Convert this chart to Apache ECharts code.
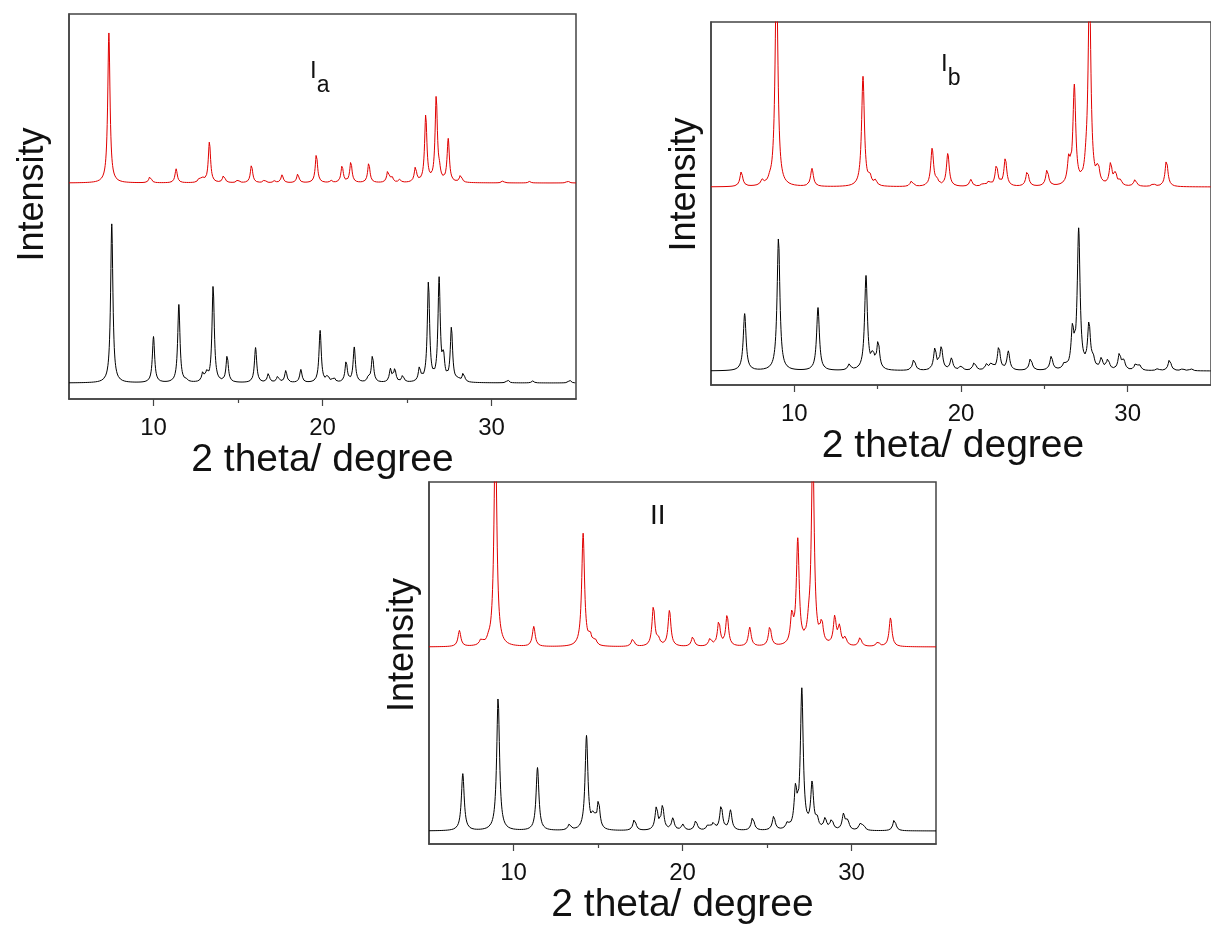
<!DOCTYPE html>
<html>
<head>
<meta charset="utf-8">
<title>PXRD Ia / Ib / II</title>
<script src="https://cdn.jsdelivr.net/npm/echarts@6/dist/echarts.min.js"></script>
<style>
  html, body { margin: 0; padding: 0; background: #fff; }
  #chart { width: 1211px; height: 927px; }
</style>
</head>
<body>
<div id="chart"></div>
<script>
// peak lists: 2theta (deg) and height above the trace baseline (a.u.)
// Ia - experimental (red)
var iaRedPos = [7.36, 9.80, 11.34, 12.72, 12.95, 13.31, 14.16, 14.99, 15.80, 16.57, 17.16, 17.61, 18.54, 19.64, 20.51, 21.16, 21.68, 22.74, 23.87, 24.10, 24.56, 25.50, 26.11, 26.73, 26.92, 27.44, 28.18, 30.67, 32.25, 34.51];
var iaRedInt = [150, 7, 14, 5, 4, 41, 8, 3, 18, 3, 2, 8, 9, 29, 2, 17, 21, 20, 12, 6, 3, 15, 67, 85, 8, 43, 8, 2, 1.5, 2];
// Ia - calculated (black)
var iaBlkPos = [7.53, 10.00, 11.50, 11.93, 12.92, 13.15, 13.53, 14.36, 16.04, 16.80, 17.36, 17.83, 18.72, 19.86, 20.31, 20.67, 21.40, 21.88, 22.72, 22.96, 24.02, 24.28, 24.75, 25.74, 26.27, 26.90, 27.16, 27.63, 28.00, 28.34, 30.96, 32.44, 34.62];
var iaBlkInt = [159, 46, 78, 2, 9, 8, 97, 27, 35, 9, 7, 12, 13, 52, 7, 5, 21, 35, 5, 27, 13, 13, 7, 14, 100, 102, 22, 54, 3, 10, 3, 2, 3];

// Ib - experimental (red)
var ibRedPos = [6.82, 8.07, 8.52, 8.93, 11.06, 14.12, 14.54, 14.87, 17.04, 18.27, 18.56, 19.21, 20.59, 21.32, 21.67, 22.13, 22.66, 23.98, 25.17, 26.47, 26.80, 27.50, 27.71, 28.23, 28.98, 29.27, 29.57, 30.45, 31.54, 32.33];
var ibRedInt = [15, 5, 3, 220, 18, 110, 8, 5, 6, 38, 5, 33, 7, 3, 5, 21, 28, 16, 17, 24, 98, 10, 200, 17, 22, 12, 5, 7, 3, 27];
// Ib - calculated (black)
var ibBlkPos = [7.02, 9.05, 11.42, 13.30, 14.30, 14.72, 15.03, 17.18, 18.44, 18.82, 19.43, 20.00, 20.81, 21.54, 21.83, 22.27, 22.84, 24.18, 25.42, 26.21, 26.69, 27.06, 27.68, 27.93, 28.42, 28.82, 29.51, 29.77, 30.49, 30.71, 31.80, 32.52, 33.30, 33.80];
var ibBlkInt = [57, 133, 63, 6, 94, 14, 28, 12, 22, 23, 12, 5, 9, 6, 7, 24, 19, 13, 14, 6, 38, 139, 45, 9, 11, 11, 17, 9, 7, 5, 2, 12, 2, 2];

// II - experimental (red)
var iiRedPos = [6.80, 8.09, 8.52, 8.93, 11.20, 14.12, 14.54, 14.83, 17.06, 18.28, 18.58, 19.23, 20.61, 21.64, 22.15, 22.64, 23.98, 25.17, 26.47, 26.82, 27.47, 27.71, 28.24, 29.01, 29.29, 29.63, 30.51, 31.56, 32.31];
var iiRedInt = [16, 6, 3, 220, 20, 113, 9, 6, 8, 40, 6, 36, 10, 8, 25, 31, 19, 20, 28, 104, 12, 200, 21, 28, 18, 8, 9, 5, 29];
// II - calculated (black)
var iiBlkPos = [7.00, 9.09, 11.42, 13.31, 14.32, 14.73, 15.03, 17.16, 18.46, 18.82, 19.43, 20.02, 20.79, 21.52, 21.83, 22.29, 22.84, 24.16, 25.40, 26.21, 26.69, 27.06, 27.67, 27.97, 28.44, 28.83, 29.53, 29.78, 30.51, 30.71, 32.54];
var iiBlkInt = [57, 133, 63, 6, 94, 14, 28, 12, 23, 24, 12, 6, 10, 6, 7, 25, 20, 14, 14, 6, 38, 139, 45, 9, 11, 11, 16, 9, 6, 5, 12];

// baselines of each trace (same units as the heights)
var iaBase = [216, 16];   // red, black
var ibBase = [198, 14];
var iiBase = [197, 13];
var yTop = [385, 363, 362]; // top of the intensity axis per panel

var xTicks = [10, 20, 30];
var xMinorTicks = [15, 25];

// build a diffraction profile from a peak list (lorentzian peaks on a flat baseline)
function profile(pos, inten, base, w) {
	var xs = [];
	for (var i = 0; i <= 1500; i++) xs.push(5 + i * 0.02);
	for (var k = 0; k < pos.length; k++) xs.push(pos[k]);
	xs.sort(function(a, b){ return a - b; });
	return xs.map(function(x){
		var y = base;
		for (var k = 0; k < pos.length; k++) {
			var d = x - pos[k];
			y += inten[k] * w * w / (d * d + w * w);
		}
		return [x, y];
	});
}

var RED = '#e00000';
var BLACK = '#000000';
var FRAME = '#444444';
var FONT = 'Liberation Sans, Arial, sans-serif';

var grids = [
	{left: 69, top: 14, width: 507, height: 385},
	{left: 711, top: 22, width: 507, height: 363},
	{left: 429, top: 482, width: 507, height: 362}
];

// main x axes (labels + long ticks) then minor tick axes
var xAxes = [];
var nameShift = [[0, 0, 0, 0], [0, 16, 0, 0], [0, 0, 0, 0]];
for (var g = 0; g < 3; g++) {
	xAxes.push({
		type: 'value', gridIndex: g, position: 'bottom', min: 5, max: 35, interval: 5,
		name: '2 theta/ degree', nameLocation: 'middle', nameGap: 39,
		nameTextStyle: {fontSize: 39, color: '#111', fontFamily: FONT, padding: nameShift[g]},
		axisLine: {show: true, lineStyle: {color: FRAME, width: 1.5}},
		axisTick: {show: true, customValues: xTicks, length: 7, lineStyle: {color: FRAME, width: 1.2}},
		axisLabel: {customValues: xTicks, fontSize: 24, color: '#111', fontFamily: FONT, margin: 17},
		splitLine: {show: false}
	});
}
for (var g = 0; g < 3; g++) {
	xAxes.push({
		type: 'value', gridIndex: g, position: 'bottom', offset: 0, min: 5, max: 35, interval: 5,
		axisLine: {show: false},
		axisTick: {show: true, customValues: xMinorTicks, length: 4, lineStyle: {color: FRAME, width: 1.2}},
		axisLabel: {show: false},
		splitLine: {show: false}
	});
}

var yGap = [18, 8, 8];
var yShift = [[0, 0, 0, 24], [0, 0, 0, 38], [0, 0, 0, 36]];
var yAxes = [];
for (var g = 0; g < 3; g++) {
	yAxes.push({
		type: 'value', gridIndex: g, min: 0, max: yTop[g],
		name: 'Intensity', nameLocation: 'middle', nameRotate: 90, nameGap: yGap[g],
		nameTextStyle: {fontSize: 36, color: '#111', fontFamily: FONT, padding: yShift[g]},
		axisLine: {show: true, lineStyle: {color: FRAME, width: 1.5}},
		axisTick: {show: false},
		axisLabel: {show: false},
		splitLine: {show: false}
	});
}

function lineSeries(name, g, data, color) {
	return {
		name: name, type: 'line', xAxisIndex: g, yAxisIndex: g,
		data: data, showSymbol: false, clip: true, animation: false,
		lineStyle: {color: color, width: 1}
	};
}

var series = [
	lineSeries('Ia exp', 0, profile(iaRedPos, iaRedInt, iaBase[0], 0.08), RED),
	lineSeries('Ia calc', 0, profile(iaBlkPos, iaBlkInt, iaBase[1], 0.08), BLACK),
	lineSeries('Ib exp', 1, profile(ibRedPos, ibRedInt, ibBase[0], 0.1), RED),
	lineSeries('Ib calc', 1, profile(ibBlkPos, ibBlkInt, ibBase[1], 0.1), BLACK),
	lineSeries('II exp', 2, profile(iiRedPos, iiRedInt, iiBase[0], 0.1), RED),
	lineSeries('II calc', 2, profile(iiBlkPos, iiBlkInt, iiBase[1], 0.1), BLACK)
];

// panel labels, I with a subscript
var subRich = {
	i: {fontSize: 24, fontWeight: 'normal', lineHeight: 24, verticalAlign: 'top', color: '#111', fontFamily: FONT},
	s: {fontSize: 23, fontWeight: 'normal', lineHeight: 38, verticalAlign: 'bottom', color: '#111', fontFamily: FONT}
};
var titles = [
	{text: '{i|I}{s|a}', left: 305, top: 54, textStyle: {fontWeight: 'normal', rich: subRich}},
	{text: '{i|I}{s|b}', left: 936, top: 47, textStyle: {fontWeight: 'normal', rich: subRich}},
	{text: 'II', left: 645, top: 497, textStyle: {fontSize: 28, fontWeight: 'normal', color: '#111', fontFamily: FONT}}
];

var chart = echarts.init(document.getElementById('chart'), null, {renderer: 'canvas'});
chart.setOption({
	animation: false,
	backgroundColor: '#fff',
	title: titles,
	grid: grids.map(function(r){
		return {left: r.left, top: r.top, width: r.width, height: r.height, show: true,
			borderColor: FRAME, borderWidth: 1.5, backgroundColor: 'transparent'};
	}),
	xAxis: xAxes,
	yAxis: yAxes,
	series: series
});
</script>
</body>
</html>
